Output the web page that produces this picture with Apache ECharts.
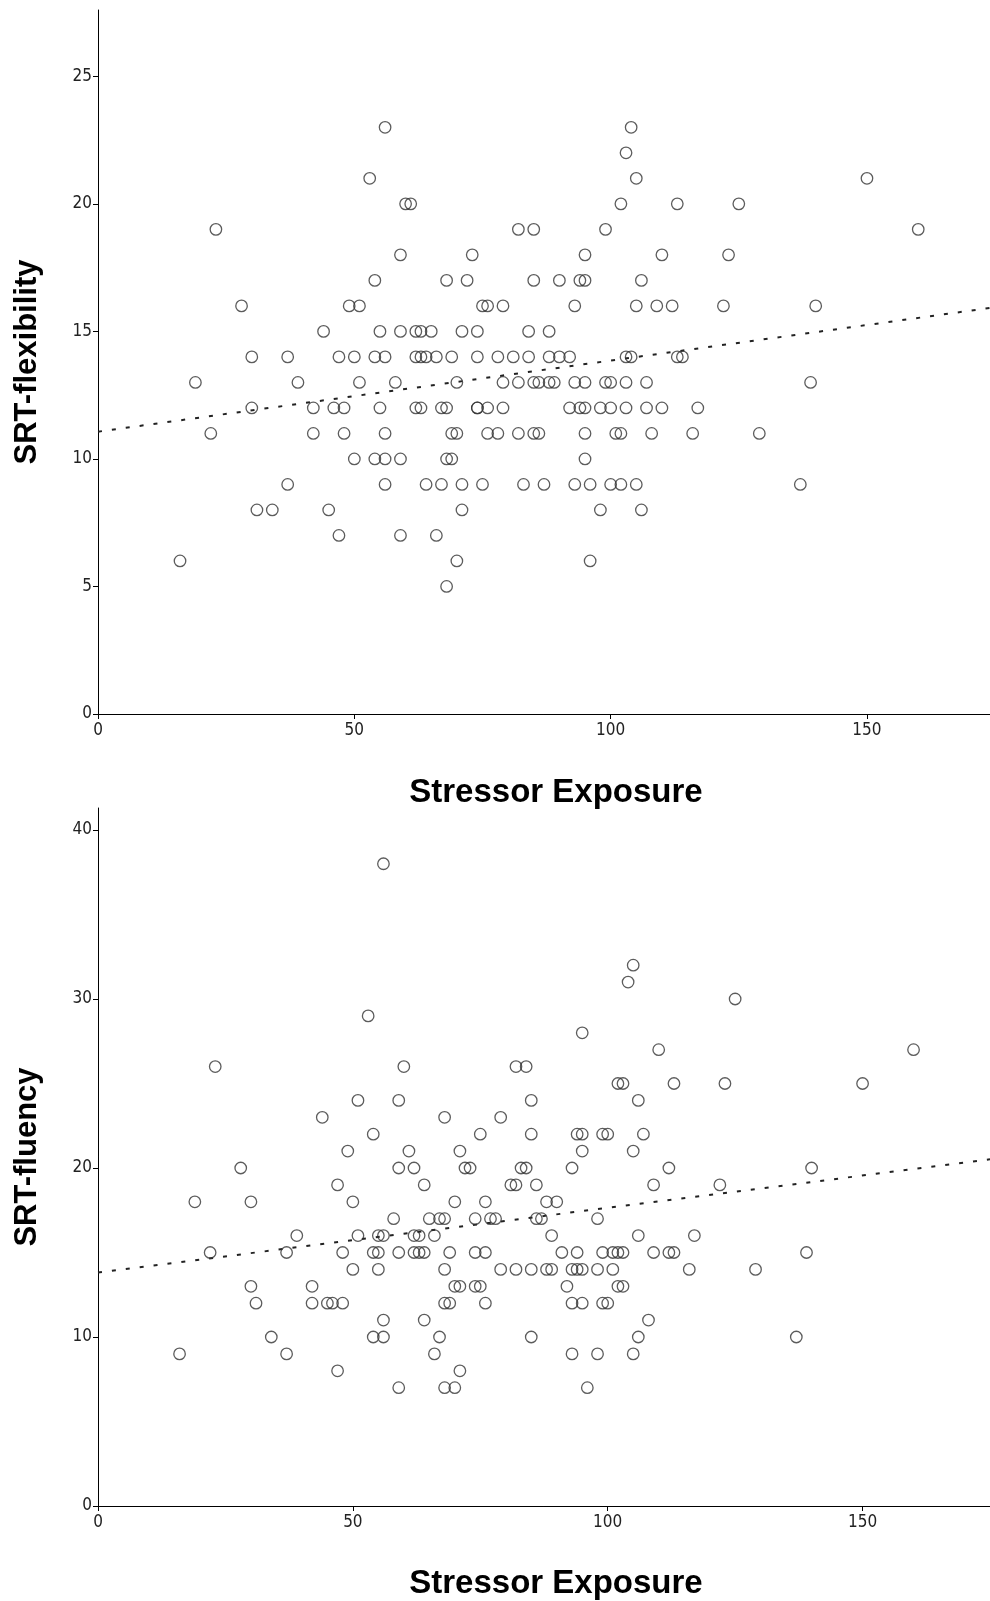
<!DOCTYPE html>
<html>
<head>
<meta charset="utf-8">
<style>
html, body { margin: 0; background: #fff; }
#chart { width: 990px; height: 1601px; }
</style>
<script src="https://cdn.jsdelivr.net/npm/echarts@6/dist/echarts.min.js"></script>
</head>
<body>
<div id="chart"></div>
<script>
// [stressor exposure, SRT score]
const flexibilityPoints = [
  [56, 23], [104, 23],
  [103, 22],
  [53, 21], [105, 21], [150, 21],
  [60, 20], [61, 20], [102, 20], [113, 20], [125, 20],
  [23, 19], [82, 19], [85, 19], [99, 19], [160, 19],
  [59, 18], [73, 18], [95, 18], [110, 18], [123, 18],
  [54, 17], [68, 17], [72, 17], [85, 17], [90, 17], [94, 17], [95, 17], [106, 17],
  [28, 16], [49, 16], [51, 16], [75, 16], [76, 16], [79, 16], [93, 16], [105, 16], [109, 16], [112, 16], [122, 16], [140, 16],
  [44, 15], [55, 15], [59, 15], [62, 15], [63, 15], [65, 15], [71, 15], [74, 15], [84, 15], [88, 15],
  [30, 14], [37, 14], [47, 14], [50, 14], [54, 14], [56, 14], [62, 14], [63, 14], [64, 14], [66, 14], [69, 14],
  [74, 14], [78, 14], [81, 14], [84, 14], [88, 14], [90, 14], [92, 14], [103, 14], [104, 14], [113, 14], [114, 14],
  [19, 13], [39, 13], [51, 13], [58, 13], [70, 13], [79, 13], [82, 13], [85, 13], [86, 13], [88, 13], [89, 13],
  [93, 13], [95, 13], [99, 13], [100, 13], [103, 13], [107, 13], [139, 13],
  [30, 12], [42, 12], [46, 12], [48, 12], [55, 12], [62, 12], [63, 12], [67, 12], [68, 12], [74, 12], [74, 12],
  [76, 12], [79, 12], [92, 12], [94, 12], [95, 12], [98, 12], [100, 12], [103, 12], [107, 12], [110, 12], [117, 12],
  [22, 11], [42, 11], [48, 11], [56, 11], [69, 11], [70, 11], [76, 11], [78, 11], [82, 11], [85, 11], [86, 11],
  [95, 11], [101, 11], [102, 11], [108, 11], [116, 11], [129, 11],
  [50, 10], [54, 10], [56, 10], [59, 10], [68, 10], [69, 10], [95, 10],
  [37, 9], [56, 9], [64, 9], [67, 9], [71, 9], [75, 9], [83, 9], [87, 9], [93, 9], [96, 9], [100, 9], [102, 9], [105, 9], [137, 9],
  [31, 8], [34, 8], [45, 8], [71, 8], [98, 8], [106, 8],
  [47, 7], [59, 7], [66, 7],
  [16, 6], [70, 6], [96, 6],
  [68, 5]
];

const fluencyPoints = [
  [56, 38],
  [105, 32],
  [104, 31],
  [125, 30],
  [53, 29],
  [95, 28],
  [110, 27], [160, 27],
  [23, 26], [60, 26], [82, 26], [84, 26],
  [102, 25], [103, 25], [113, 25], [123, 25], [150, 25],
  [51, 24], [59, 24], [85, 24], [106, 24],
  [44, 23], [68, 23], [79, 23],
  [54, 22], [75, 22], [85, 22], [94, 22], [95, 22], [99, 22], [100, 22], [107, 22],
  [49, 21], [61, 21], [71, 21], [95, 21], [105, 21],
  [28, 20], [59, 20], [62, 20], [72, 20], [73, 20], [83, 20], [84, 20], [93, 20], [112, 20], [140, 20],
  [47, 19], [64, 19], [81, 19], [82, 19], [86, 19], [109, 19], [122, 19],
  [19, 18], [30, 18], [50, 18], [70, 18], [76, 18], [88, 18], [90, 18],
  [58, 17], [65, 17], [67, 17], [68, 17], [74, 17], [77, 17], [78, 17], [86, 17], [87, 17], [98, 17],
  [39, 16], [51, 16], [55, 16], [56, 16], [62, 16], [63, 16], [66, 16], [89, 16], [106, 16], [117, 16],
  [22, 15], [37, 15], [48, 15], [54, 15], [55, 15], [59, 15], [62, 15], [63, 15], [64, 15], [69, 15], [74, 15],
  [76, 15], [91, 15], [94, 15], [99, 15], [101, 15], [102, 15], [103, 15], [109, 15], [112, 15], [113, 15], [139, 15],
  [50, 14], [55, 14], [68, 14], [79, 14], [82, 14], [85, 14], [88, 14], [89, 14], [93, 14], [94, 14], [95, 14],
  [98, 14], [101, 14], [116, 14], [129, 14],
  [30, 13], [42, 13], [70, 13], [71, 13], [74, 13], [75, 13], [92, 13], [102, 13], [103, 13],
  [31, 12], [42, 12], [45, 12], [46, 12], [48, 12], [68, 12], [69, 12], [76, 12], [93, 12], [95, 12], [99, 12], [100, 12],
  [56, 11], [64, 11], [108, 11],
  [34, 10], [54, 10], [56, 10], [67, 10], [85, 10], [106, 10], [137, 10],
  [16, 9], [37, 9], [66, 9], [93, 9], [98, 9], [105, 9],
  [47, 8], [71, 8],
  [59, 7], [68, 7], [70, 7], [96, 7]
];

const xTicks = [0, 50, 100, 150];
const flexTicks = [0, 5, 10, 15, 20, 25];
const fluencyTicks = [0, 10, 20, 30, 40];

const xMaxTop = 174;
const xMaxBottom = 175;
const flexMax = 27.6;
const fluencyMax = 41.3;

// least squares line, like the SPSS fit line
function fitLine(points, xMax) {
  const n = points.length;
  let sx = 0, sy = 0, sxx = 0, sxy = 0;
  for (const [x, y] of points) {
    sx += x; sy += y; sxx += x * x; sxy += x * y;
  }
  const slope = (n * sxy - sx * sy) / (n * sxx - sx * sx);
  const intercept = (sy - slope * sx) / n;
  return [[0, intercept], [xMax, intercept + slope * xMax]];
}

const tickFont = "'Liberation Sans Narrow', 'DejaVu Sans Condensed', 'Liberation Sans', Arial, sans-serif";
const titleFont = "'Liberation Sans', Arial, sans-serif";

function xAxis(gridIndex, max, gap) {
  return {
    type: 'value', gridIndex, min: 0, max,
    name: 'Stressor Exposure', nameLocation: 'middle', nameGap: gap,
    nameTextStyle: { fontFamily: titleFont, fontWeight: 'bold', fontSize: 33, color: '#000', padding: [0, 0, 0, 24] },
    axisLine: { show: true, onZero: false, lineStyle: { color: '#000', width: 1 } },
    axisTick: { show: true, length: 5, customValues: xTicks, lineStyle: { color: '#000' } },
    axisLabel: { customValues: xTicks, fontFamily: tickFont, fontSize: 17, color: '#222', margin: 8 },
    splitLine: { show: false }
  };
}

function yAxis(gridIndex, max, ticks, name) {
  return {
    type: 'value', gridIndex, min: 0, max,
    name, nameLocation: 'middle', nameGap: 55,
    nameTextStyle: { fontFamily: titleFont, fontWeight: 'bold', fontSize: 31, color: '#000' },
    axisLine: { show: true, onZero: false, lineStyle: { color: '#000', width: 1 } },
    axisTick: { show: true, length: 5, customValues: ticks, lineStyle: { color: '#000' } },
    axisLabel: { customValues: ticks, fontFamily: tickFont, fontSize: 17, color: '#222', margin: 6 },
    splitLine: { show: false }
  };
}

function scatter(i, data) {
  return {
    type: 'scatter', xAxisIndex: i, yAxisIndex: i, data,
    symbol: 'circle', symbolSize: 11.5, silent: true,
    itemStyle: { color: 'rgba(0,0,0,0)', borderColor: '#333', borderWidth: 1.3 }
  };
}

function fit(i, data, xMax) {
  return {
    type: 'line', xAxisIndex: i, yAxisIndex: i, data: fitLine(data, xMax),
    showSymbol: false, silent: true, z: 1,
    lineStyle: { type: [4, 10], width: 2, color: '#222' }
  };
}

const chart = echarts.init(document.getElementById('chart'), null, { renderer: 'canvas' });
chart.setOption({
  animation: false,
  backgroundColor: '#fff',
  grid: [
    { left: 98, right: 0, top: 10, height: 704 },
    { left: 98, right: 0, top: 808, height: 698 }
  ],
  xAxis: [xAxis(0, xMaxTop, 62), xAxis(1, xMaxBottom, 61)],
  yAxis: [
    yAxis(0, flexMax, flexTicks, 'SRT-flexibility'),
    yAxis(1, fluencyMax, fluencyTicks, 'SRT-fluency')
  ],
  series: [
    scatter(0, flexibilityPoints),
    fit(0, flexibilityPoints, xMaxTop),
    scatter(1, fluencyPoints),
    fit(1, fluencyPoints, xMaxBottom)
  ]
});
</script>
</body>
</html>
